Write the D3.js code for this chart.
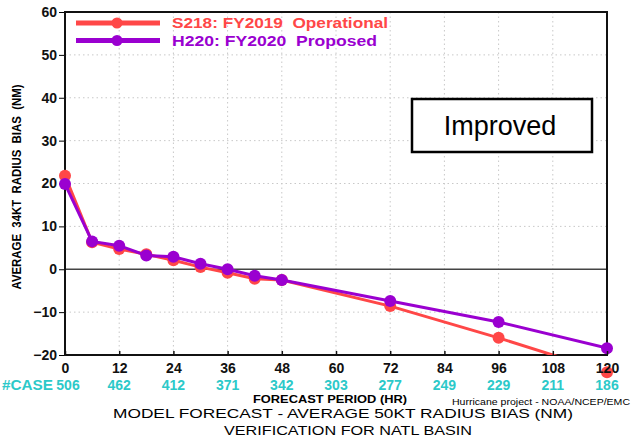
<!DOCTYPE html>
<html>
<head>
<meta charset="utf-8">
<script src="https://cdn.jsdelivr.net/npm/d3@7"></script>
<style>
  body { margin: 0; background: #fff; }
  svg { display: block; font-family: "Liberation Sans", Arial, sans-serif; }
  text { white-space: pre; }
</style>
</head>
<body>
<svg id="chart" width="633" height="439"></svg>
<script>
// forecast hours and bias values
const hours = [0, 6, 12, 18, 24, 30, 36, 42, 48, 72, 96, 120];
const s218 = [21.8, 6.3, 4.7, 3.5, 2.1, 0.5, -0.8, -2.2, -2.5, -8.6, -16.0, -24.0];
const h220 = [19.9, 6.5, 5.5, 3.2, 2.9, 1.3, 0.0, -1.5, -2.5, -7.4, -12.3, -18.4];
const xTicks = [0, 12, 24, 36, 48, 60, 72, 84, 96, 108, 120];
const yTicks = [-20, -10, 0, 10, 20, 30, 40, 50, 60];
const caseCounts = [506, 462, 412, 371, 342, 303, 277, 249, 229, 211, 186];

const series = [
  { name: "S218: FY2019  Operational", values: s218, color: "#ff4747", len: 216 },
  { name: "H220: FY2020  Proposed", values: h220, color: "#9a00d0", len: 205 }
];

const width = 633, height = 439;
const margin = { top: 12, right: 26, bottom: 84, left: 65 };
const innerWidth = width - margin.left - margin.right;
const innerHeight = height - margin.top - margin.bottom;

const svg = d3.select("#chart");
const g = svg.append("g").attr("transform", `translate(${margin.left},${margin.top})`);

const x = d3.scaleLinear().domain([0, 120]).range([0, innerWidth]);
const y = d3.scaleLinear().domain([-20, 60]).range([innerHeight, 0]);

svg.append("defs").append("clipPath").attr("id", "plot")
  .append("rect").attr("width", innerWidth).attr("height", innerHeight);

// dotted grid
g.append("g").selectAll("line").data(xTicks.slice(1, -1)).join("line")
  .attr("x1", d => x(d)).attr("x2", d => x(d))
  .attr("y1", 0).attr("y2", innerHeight)
  .attr("stroke", "#c8c8c8").attr("stroke-dasharray", "1.5,3");
g.append("g").selectAll("line").data(yTicks.slice(1, -1).filter(d => d !== 0)).join("line")
  .attr("x1", 0).attr("x2", innerWidth)
  .attr("y1", d => y(d)).attr("y2", d => y(d))
  .attr("stroke", "#c8c8c8").attr("stroke-dasharray", "1.5,3");

// zero line
g.append("line")
  .attr("x1", 0).attr("x2", innerWidth)
  .attr("y1", y(0)).attr("y2", y(0))
  .attr("stroke", "#444").attr("stroke-width", 1.3);

// y axis
const yAxis = d3.axisLeft(y).tickValues(yTicks).tickSize(6).tickPadding(2);
g.append("g").call(yAxis)
  .call(a => a.select(".domain").remove())
  .call(a => a.selectAll("text").attr("font-size", 14).attr("font-weight", "bold").attr("fill", "#111"));

// frame
g.append("rect").attr("width", innerWidth).attr("height", innerHeight)
  .attr("fill", "none").attr("stroke", "#111").attr("stroke-width", 2);

// lines and markers
const line = d3.line().x((d, i) => x(hours[i])).y(d => y(d));
series.forEach(s => {
  g.append("path").datum(s.values)
    .attr("clip-path", "url(#plot)")
    .attr("fill", "none").attr("stroke", s.color).attr("stroke-width", 3)
    .attr("d", line);
  g.append("g").selectAll("circle").data(s.values).join("circle")
    .attr("cx", (d, i) => x(hours[i])).attr("cy", d => y(d))
    .attr("r", 6).attr("fill", s.color);
});

// x axis drawn over the markers (the 120h red dot sits under its label)
const xAxis = d3.axisBottom(x).tickValues(xTicks).tickSize(-4).tickPadding(8);
g.append("g").attr("transform", `translate(0,${innerHeight})`).call(xAxis)
  .call(a => a.select(".domain").remove())
  .call(a => a.selectAll("line").attr("stroke", "#111").attr("stroke-width", 1.5))
  .call(a => a.selectAll("text").attr("font-size", 14).attr("font-weight", "bold").attr("fill", "#111"));

// legend
const legend = g.append("g").attr("transform", "translate(11,11)");
series.forEach((s, i) => {
  const row = legend.append("g").attr("transform", `translate(0,${i * 17.5})`);
  row.append("line").attr("x1", 0).attr("x2", 84).attr("stroke", s.color).attr("stroke-width", 5);
  row.append("circle").attr("cx", 41).attr("r", 5.5).attr("fill", s.color);
  row.append("text").attr("x", 96).attr("dy", "0.36em")
    .attr("font-size", 15).attr("font-weight", "bold").attr("fill", s.color)
    .attr("textLength", s.len).attr("lengthAdjust", "spacingAndGlyphs")
    .text(s.name);
});

// annotation box
const box = svg.append("g").attr("transform", "translate(412,99)");
box.append("rect").attr("width", 180).attr("height", 53)
  .attr("fill", "#fff").attr("stroke", "#000").attr("stroke-width", 2.5);
box.append("text").attr("x", 88).attr("y", 26).attr("dy", "0.36em")
  .attr("text-anchor", "middle").attr("font-size", 27).attr("fill", "#000")
  .text("Improved");

// y label
svg.append("text")
  .attr("transform", `translate(21,187) rotate(-90)`)
  .attr("text-anchor", "middle").attr("font-size", 12).attr("font-weight", "bold")
  .attr("textLength", 205).attr("lengthAdjust", "spacingAndGlyphs")
  .text("AVERAGE  34KT  RADIUS  BIAS  (NM)");

// case counts
const caseY = 390;
svg.append("g").selectAll("text").data(caseCounts).join("text")
  .attr("x", (d, i) => margin.left + x(xTicks[i]) + (i === 0 ? 3 : 0))
  .attr("y", caseY)
  .attr("text-anchor", "middle").attr("font-size", 14).attr("font-weight", "bold")
  .attr("fill", "#2cc9c9").text(d => d);
svg.append("text").attr("x", 2).attr("y", caseY)
  .attr("font-size", 14).attr("font-weight", "bold").attr("fill", "#2cc9c9")
  .attr("textLength", 51).attr("lengthAdjust", "spacingAndGlyphs")
  .text("#CASE");

// axis title and footer
svg.append("text").attr("x", 330).attr("y", 403)
  .attr("text-anchor", "middle").attr("font-size", 11.5).attr("font-weight", "bold")
  .attr("textLength", 154).attr("lengthAdjust", "spacingAndGlyphs")
  .text("FORECAST PERIOD (HR)");
svg.append("text").attr("x", 452).attr("y", 405)
  .attr("font-size", 8.5)
  .attr("textLength", 178).attr("lengthAdjust", "spacingAndGlyphs")
  .text("Hurricane project - NOAA/NCEP/EMC");
svg.append("text").attr("x", 343).attr("y", 418)
  .attr("text-anchor", "middle").attr("font-size", 13)
  .attr("textLength", 460).attr("lengthAdjust", "spacingAndGlyphs")
  .text("MODEL FORECAST - AVERAGE 50KT RADIUS BIAS (NM)");
svg.append("text").attr("x", 348).attr("y", 435)
  .attr("text-anchor", "middle").attr("font-size", 13)
  .attr("textLength", 248).attr("lengthAdjust", "spacingAndGlyphs")
  .text("VERIFICATION FOR NATL BASIN");
</script>
</body>
</html>
